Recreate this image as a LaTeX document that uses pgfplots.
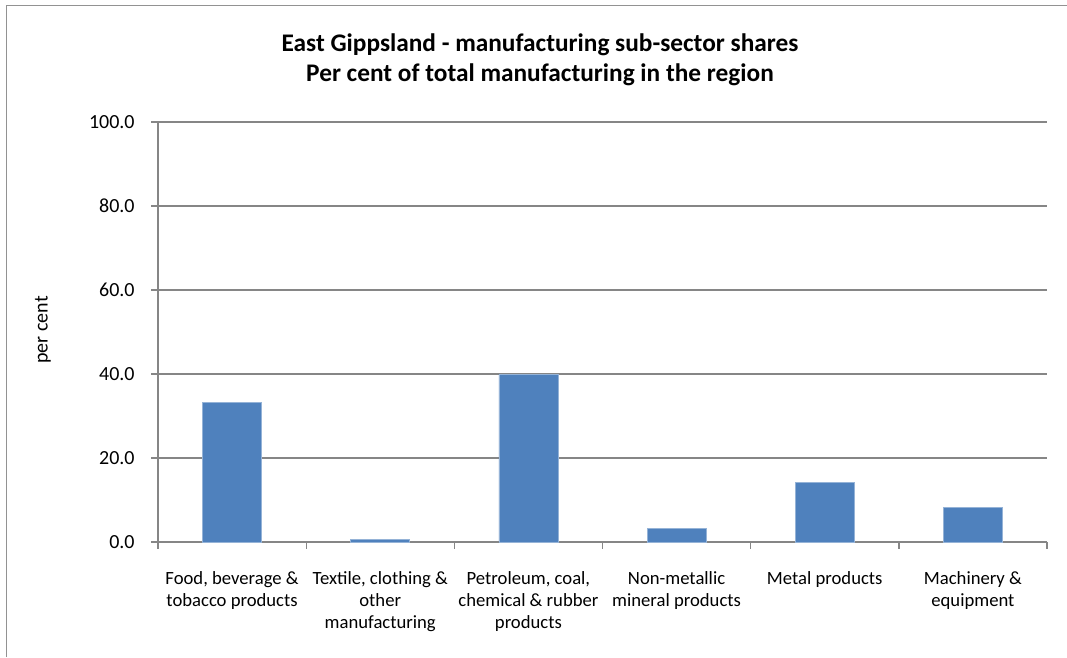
\documentclass[border=0pt]{standalone}
\usepackage{pgfplots}
\pgfplotsset{compat=1.18}
\usepackage{fontspec}
\setmainfont{Carlito}
\definecolor{barblue}{HTML}{4F81BD}
\definecolor{axgray}{HTML}{868686}
\begin{document}
\begin{tikzpicture}[x=0.75pt,y=-0.75pt]
\path[use as bounding box] (0,0) rectangle (1067,657);
\draw[axgray!90, line width=1.2pt] (6.5,657) -- (6.5,5.5) -- (1067,5.5);
\node[font=\bfseries\fontsize{19}{22.5}\selectfont, align=center] at (540,60) {East Gippsland - manufacturing sub-sector shares\\Per cent of total manufacturing in the region};
\node[rotate=90, font=\fontsize{15}{16}\selectfont] at (43,330) {per cent};
\begin{axis}[
  at={(118.5pt,-406.5pt)}, anchor=south west, scale only axis,
  width=666.75pt, height=315pt,
  xmin=-0.5, xmax=5.5, ymin=0, ymax=100,
  axis lines=left, axis line style={-, axgray, line width=1pt},
  ytick={0,20,...,100}, ymajorgrids, grid style={axgray, line width=1pt},
  yticklabel={\pgfmathprintnumber[fixed,fixed zerofill,precision=1,assume math mode=true]{\tick}},
  xtick={-0.5,0.5,1.5,2.5,3.5,4.5,5.5}, x tick label as interval,
  xticklabels={{Food, beverage \&\\tobacco products},{Textile, clothing \&\\other\\manufacturing},{Petroleum, coal,\\chemical \& rubber\\products},{Non-metallic\\mineral products},{Metal products},{Machinery \&\\equipment}},
  tick style={axgray, line width=1pt},
  major tick length=5pt,
  tick align=outside,
  xticklabel style={font=\fontsize{14}{16.5}\selectfont, text=black, align=center, yshift=-13.5pt},
  yticklabel style={font=\fontsize{15}{16.5}\selectfont, text=black, xshift=-9pt},
]
\addplot[ybar, bar width=44.25pt, fill=barblue, draw=barblue!60!white] coordinates {(0,33.3) (1,0.7) (2,40.0) (3,3.3) (4,14.2) (5,8.3)};
\end{axis}
\end{tikzpicture}
\end{document}
